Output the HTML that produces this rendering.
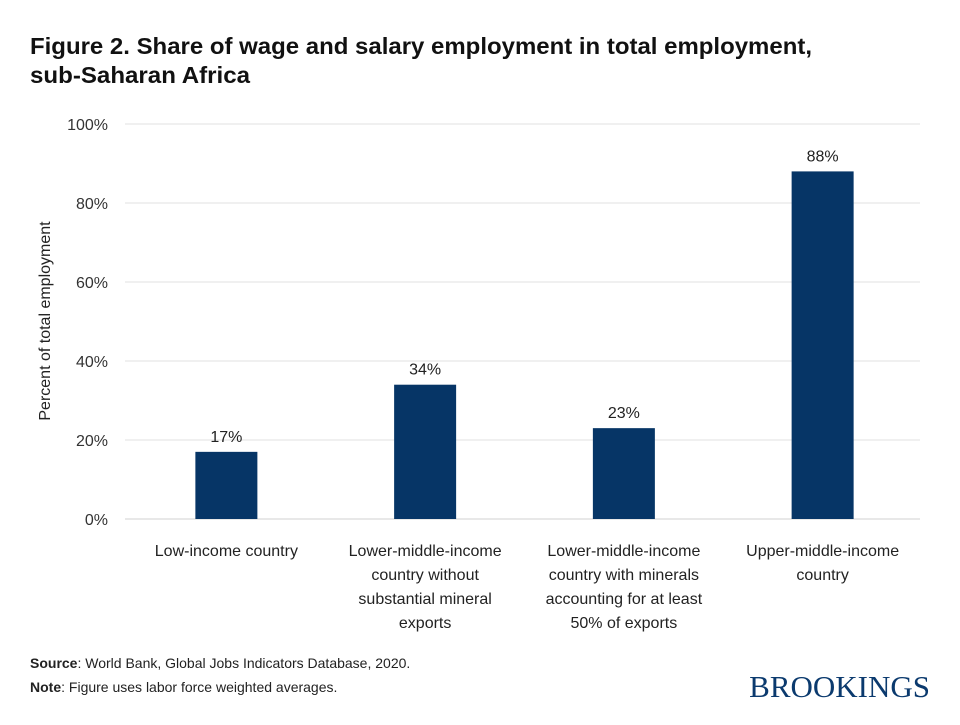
<!DOCTYPE html>
<html><head><meta charset="utf-8">
<style>
body{margin:0;background:#fff;width:960px;height:720px;overflow:hidden;font-family:"Liberation Sans",sans-serif;}
</style></head><body>
<svg width="960" height="720">
<text x="30" y="54" font-size="23" font-weight="bold" fill="#111" textLength="782" lengthAdjust="spacingAndGlyphs">Figure 2. Share of wage and salary employment in total employment,</text>
<text x="30" y="83" font-size="23" font-weight="bold" fill="#111" textLength="220" lengthAdjust="spacingAndGlyphs">sub-Saharan Africa</text>
<g id="grid"></g><g id="bars"></g><g id="xl"></g>
<text transform="translate(50,321) rotate(-90)" text-anchor="middle" font-size="16" fill="#222">Percent of total employment</text>
<text x="30" y="668" font-size="14" fill="#222"><tspan font-weight="bold">Source</tspan>: World Bank, Global Jobs Indicators Database, 2020.</text>
<text x="30" y="692" font-size="14" fill="#222"><tspan font-weight="bold">Note</tspan>: Figure uses labor force weighted averages.</text>
<text x="930" y="697" text-anchor="end" font-family="Liberation Serif,serif" font-size="31" fill="#0b3a6e">BROOKINGS</text>
</svg>
<script>
const categories=[["Low-income country"],["Lower-middle-income","country without","substantial mineral","exports"],["Lower-middle-income","country with minerals","accounting for at least","50% of exports"],["Upper-middle-income","country"]];
const values=[17,34,23,88];
const valueLabels=["17%","34%","23%","88%"];
const ticks=[0,20,40,60,80,100];
const tickLabels=["0%","20%","40%","60%","80%","100%"];
const NS="http://www.w3.org/2000/svg";
const x0=127,x1=922,y0=519,y1=124;
const yS=v=>y0-(v/100)*(y0-y1);
const band=(x1-x0)/categories.length;
const xC=i=>x0+band*(i+0.5);
function mk(p,t,a,txt){const e=document.createElementNS(NS,t);for(const k in a)e.setAttribute(k,a[k]);if(txt!=null)e.textContent=txt;document.getElementById(p).appendChild(e);return e;}
ticks.forEach((t,i)=>{
 const l=mk("grid","line",{x1:125,x2:920,y1:yS(t),y2:yS(t),stroke:t===0?"#d0d0d0":"#e0e0e0","stroke-width":1});
 
 
 const tx=mk("grid","text",{x:108,y:yS(t)+6,"text-anchor":"end","font-size":16,fill:"#333"},tickLabels[i]);
 
 
});
values.forEach((v,i)=>{
 const r=mk("bars","rect",{x:xC(i)-31,y:yS(v),width:62,height:y0-yS(v),fill:"#063566"});
 
 
 const t=mk("bars","text",{x:xC(i),y:yS(v)-10,"text-anchor":"middle","font-size":16,fill:"#222"},valueLabels[i]);
 
 
 categories[i].forEach((s,j)=>{
  const c=mk("xl","text",{x:xC(i),y:556+j*24,"text-anchor":"middle","font-size":16,fill:"#222"},s);
  
  
 });
});
</script>
</body></html>
